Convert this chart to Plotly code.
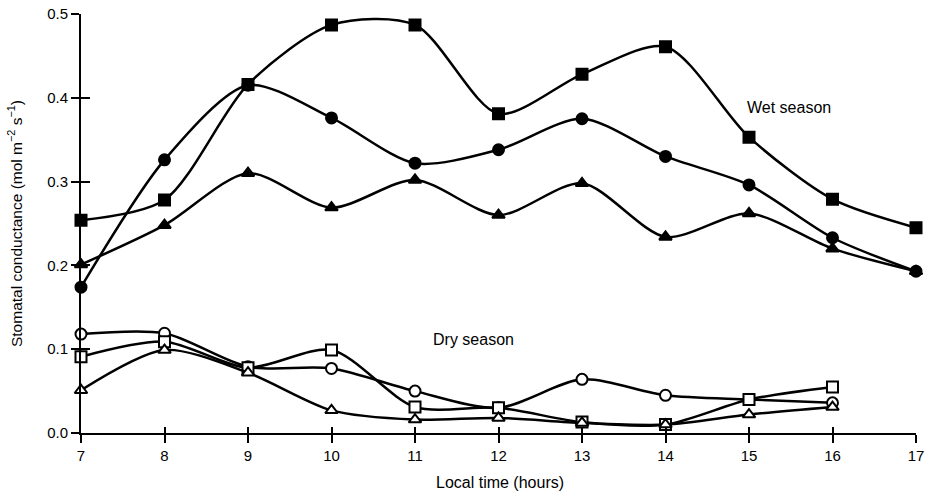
import plotly.graph_objects as go

# Local time (hours)
hours = [7, 8, 9, 10, 11, 12, 13, 14, 15, 16, 17]
hours_dry = [7, 8, 9, 10, 11, 12, 13, 14, 15, 16]

# Wet season
wet_square = [0.254, 0.278, 0.416, 0.487, 0.487, 0.381, 0.428, 0.461, 0.353, 0.279, 0.245]
wet_circle = [0.174, 0.326, 0.415, 0.376, 0.322, 0.338, 0.375, 0.330, 0.296, 0.233, 0.193]
wet_triangle = [0.201, 0.248, 0.310, 0.269, 0.302, 0.260, 0.298, 0.234, 0.262, 0.220, 0.193]

# Dry season
dry_circle = [0.118, 0.119, 0.079, 0.077, 0.050, 0.030, 0.064, 0.045, 0.040, 0.036]
dry_square = [0.091, 0.109, 0.078, 0.099, 0.031, 0.030, 0.013, 0.010, 0.040, 0.055]
dry_triangle = [0.051, 0.099, 0.072, 0.027, 0.016, 0.018, 0.012, 0.010, 0.022, 0.031]

y_ticks = [0, 0.1, 0.2, 0.3, 0.4, 0.5]
y_ticktext = ['0.0', '0.1', '0.2', '0.3', '0.4', '0.5']

series = [
    (hours, wet_square, 'square', 'black'),
    (hours, wet_circle, 'circle', 'black'),
    (hours, wet_triangle, 'triangle-up', 'black'),
    (hours_dry, dry_circle, 'circle', 'white'),
    (hours_dry, dry_square, 'square', 'white'),
    (hours_dry, dry_triangle, 'triangle-up', 'white'),
]

fig = go.Figure()

for x, y, sym, fill in series:
    fig.add_trace(go.Scatter(
        x=x, y=y,
        mode='lines+markers',
        line=dict(color='black', width=2.5, shape='spline', smoothing=0.8),
        marker=dict(symbol=sym, size=11, color=fill, line=dict(color='black', width=2)),
        cliponaxis=False,
        showlegend=False
    ))

# dummy trace so the overlay axes (inner tick halves) get drawn
fig.add_trace(go.Scatter(x=[None], y=[None], xaxis='x2', yaxis='y2',
                         showlegend=False, hoverinfo='skip'))

# text labels
fig.add_annotation(x=15.48, y=0.389, text='Wet season', showarrow=False,
                   font=dict(size=16, color='black'))
fig.add_annotation(x=11.7, y=0.111, text='Dry season', showarrow=False,
                   font=dict(size=16, color='black'))
fig.add_annotation(xref='paper', yref='paper', x=-0.0796, y=0.5, textangle=-90,
                   xanchor='center', yanchor='middle',
                   text='Stomatal conductance (mol m<sup>\u22122</sup> s<sup>\u22121</sup>)',
                   showarrow=False, font=dict(size=15.5, color='black'))
fig.add_annotation(xref='paper', yref='paper', x=0.502, y=-0.119,
                   xanchor='center', yanchor='middle',
                   text='Local time (hours)', showarrow=False,
                   font=dict(size=16, color='black'))

axis_style = dict(showgrid=False, zeroline=False, showline=True, linecolor='black',
                  linewidth=2, tickwidth=2, tickcolor='black')

fig.update_layout(
    width=927, height=494,
    margin=dict(l=81, r=11, t=14, b=61, autoexpand=False),
    paper_bgcolor='white', plot_bgcolor='white',
    font=dict(family='Liberation Sans, Arial, sans-serif', size=15, color='black'),
    xaxis=dict(range=[7, 17], tickvals=hours, ticks='outside', ticklen=8, **axis_style),
    yaxis=dict(range=[0, 0.5], tickvals=y_ticks, ticktext=y_ticktext,
               ticks='outside', ticklen=8, **axis_style),
    xaxis2=dict(overlaying='x', matches='x', range=[7, 17], tickvals=hours,
                ticks='inside', ticklen=6, showticklabels=False, side='bottom', **axis_style),
    yaxis2=dict(overlaying='y', matches='y', range=[0, 0.5], tickvals=y_ticks,
                ticks='inside', ticklen=9, showticklabels=False, side='left', **axis_style),
)

# drop the default page margin so the figure fills the window exactly
fig.write_html("out.html", config={'displayModeBar': False},
               post_script="document.body.style.margin='0';")
